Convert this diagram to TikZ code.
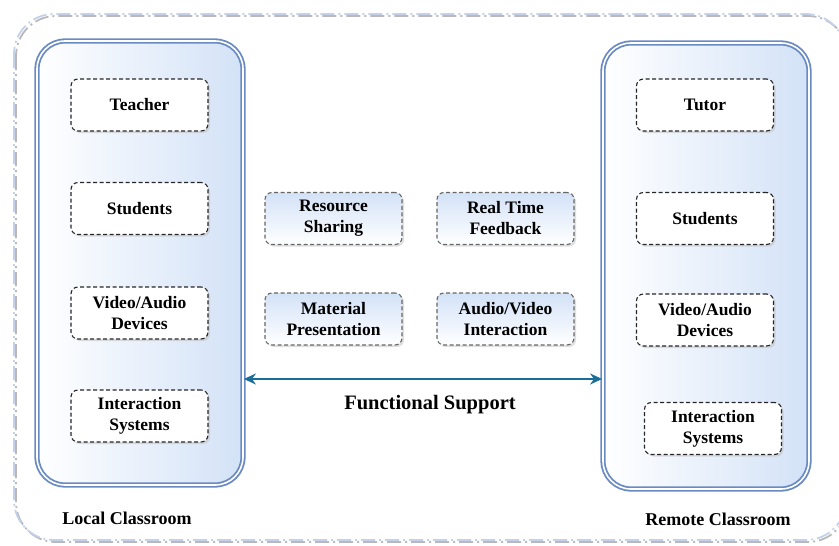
\documentclass[tikz,border=0pt]{standalone}
\usepackage{fontspec}
\setmainfont{Liberation Serif}
\usetikzlibrary{positioning,shadows,arrows.meta}
\definecolor{frameblue}{HTML}{6A8AC2}
\definecolor{lightblue}{HTML}{D3E2F7}
\definecolor{framegrey}{HTML}{C3D2EA}
\definecolor{arrowteal}{HTML}{1A6E98}

\begin{document}
\begin{tikzpicture}
  [x=1pt,y=-1pt,
   room/.style={draw=frameblue,
                double=white,
                line width=1.8pt,
                double distance=1.6pt,
                rounded corners=28pt,
                left color=white,
                right color=lightblue,
                minimum width=206pt,
                drop shadow={shadow xshift=2pt,shadow yshift=-2pt,fill=gray!50}},
   n/.style={draw=black!85,
             line width=1.1pt,
             dash pattern=on 4pt off 2.5pt,
             rounded corners=7pt,
             fill=white,
             minimum width=137pt,
             minimum height=52pt,
             align=center,
             font=\fontsize{17.5}{21}\selectfont\bfseries,
             drop shadow={shadow xshift=2pt,shadow yshift=-2pt,fill=gray!50}},
   f/.style={n,
             draw=black!60,
             top color=lightblue,
             bottom color=white},
   lbl/.style={font=\fontsize{18}{21}\selectfont\bfseries}]
  \useasboundingbox (0,0) rectangle (839,546);
  \draw[gray!55, line width=1.8pt, dash pattern=on 14pt off 4pt on 2pt off 4pt,
        rounded corners=40pt] (16,16) rectangle (848,542);
  \draw[framegrey, line width=1.8pt, dash pattern=on 14pt off 4pt on 2pt off 4pt,
        rounded corners=40pt] (14,14) rectangle (846,540);

  \node[room, minimum height=444pt] (L) at (140,263) {};
  \node[room, minimum height=446pt] (R) at (706,266) {};

  \node[n] (teacher) at (139.5,105) {Teacher};
  \node[n] (lstud) at (139.5,208.5) {Students};
  \node[n] (ldev) at (139.5,313) {Video/Audio\\Devices};
  \node[n] (lint) at (139.5,416) {Interaction\\Systems};

  \node[n] (tutor) at (705,105) {Tutor};
  \node[n] (rstud) at (705,218.5) {Students};
  \node[n] (rdev) at (705,320) {Video/Audio\\Devices};
  \node[n] (rint) at (713,428.5) {Interaction\\Systems};

  \node[f] (share) at (333.5,218.5) {Resource\\Sharing};
  \node[f] (feedback) at (505.5,218.5) {Real Time\\Feedback};
  \node[f] (present) at (333.5,319) {Material\\Presentation};
  \node[f] (avint) at (505.5,319) {Audio/Video\\Interaction};

  \coordinate (a) at (0,379);
  \draw[arrowteal, line width=1.8pt, {Stealth[length=12pt,width=11pt]}-{Stealth[length=12pt,width=11pt]}]
    (L.east |- a) -- (R.west |- a);
  \node[lbl, font=\fontsize{20.5}{24}\selectfont\bfseries] (support) at (430,405) {Functional Support};

  \node[lbl] (local) at (127,518) {Local Classroom};
  \node[lbl] (remote) at (718,519) {Remote Classroom};
\end{tikzpicture}
\end{document}
